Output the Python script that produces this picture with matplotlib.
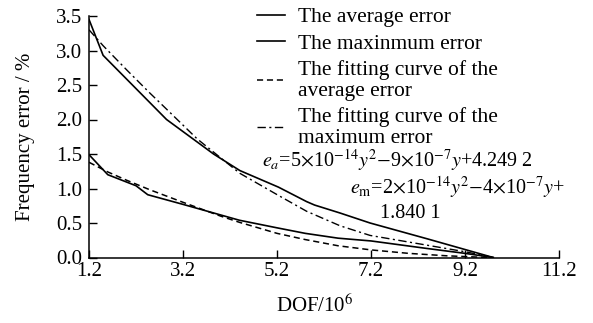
import matplotlib
matplotlib.use("Agg")
import matplotlib.pyplot as plt

plt.rcParams['font.family'] = ['Liberation Serif', 'DejaVu Serif']
plt.rcParams['mathtext.fontset'] = 'stix'

# Average error (lower solid)
avg_x = [1.2, 1.6, 2.2, 2.45, 3.2, 4.4, 5.2, 5.8, 6.5, 7.2, 8.4, 9.2, 9.8]
avg_y = [1.49, 1.20, 1.04, 0.91, 0.77, 0.54, 0.43, 0.35, 0.28, 0.24, 0.13, 0.06, 0.0]

# Maximum error (upper solid)
max_x = [1.2, 1.5, 2.85, 3.85, 4.41, 5.23, 5.83, 6.0, 6.54, 7.18, 8.4, 9.8]
max_y = [3.45, 2.93, 2.0, 1.5, 1.26, 1.02, 0.81, 0.76, 0.645, 0.50, 0.27, 0.0]

# Fitting curve of the average error (dashed)
fit_avg_x = [1.2, 1.6, 2.0, 2.5, 3.2, 4.0, 4.4, 5.2, 5.8, 6.5, 7.2, 8.0, 8.8, 9.5, 9.8]
fit_avg_y = [1.38, 1.24, 1.12, 0.98, 0.80, 0.60, 0.51, 0.35, 0.26, 0.17, 0.11, 0.06, 0.025, 0.005, 0.0]

# Fitting curve of the maximum error (dash-dot)
fit_max_x = [1.2, 1.5, 2.0, 2.5, 2.85, 3.5, 4.41, 5.23, 5.83, 6.54, 7.18, 8.38, 9.23, 9.8]
fit_max_y = [3.30, 3.07, 2.72, 2.38, 2.15, 1.72, 1.22, 0.90, 0.67, 0.46, 0.32, 0.18, 0.08, 0.0]

x_ticks = [1.2, 3.2, 5.2, 7.2, 9.2, 11.2]
y_ticks = [0.0, 0.5, 1.0, 1.5, 2.0, 2.5, 3.0, 3.5]

labels = ["The average error", "The maxinmum error",
          "The fitting curve of the\naverage error",
          "The fitting curve of the\nmaximum error"]

fig = plt.figure(figsize=(5.93, 3.23), dpi=100)
ax = fig.add_axes([89/593, 65.5/323, 470/593, 241.5/323])

l1, = ax.plot(avg_x, avg_y, color='black', lw=1.2)
l2, = ax.plot(max_x, max_y, color='black', lw=1.2)
l3, = ax.plot(fit_avg_x, fit_avg_y, color='black', lw=1.1, dashes=(4, 2.5))
l4, = ax.plot(fit_max_x, fit_max_y, color='black', lw=1.0, dashes=(6, 2.5, 1.5, 2.5))

ax.set_xlim(1.2, 11.2)
ax.set_ylim(0, 3.5)
ax.set_xticks(x_ticks)
ax.set_xticklabels([f"{v:.1f}" for v in x_ticks])
ax.set_yticks(y_ticks)
ax.set_yticklabels([f"{v:.1f}" for v in y_ticks])

for s in ['top', 'right']:
    ax.spines[s].set_visible(False)
for s in ['left', 'bottom']:
    ax.spines[s].set_linewidth(1.1)

ax.tick_params(axis='both', direction='in', length=5.5, width=1.0, labelsize=15)
ax.tick_params(axis='x', pad=3)
ax.tick_params(axis='y', pad=5)

ax.set_xlabel(r"DOF/10$^{6}$", fontsize=15)
ax.xaxis.set_label_coords(0.481, -0.155)
ax.set_ylabel("Frequency error / %", fontsize=15)
ax.yaxis.set_label_coords(-0.115, 0.5)

leg = fig.legend([l1, l2, l3, l4], labels, loc='upper left',
                 bbox_to_anchor=(257/593, 1 - 7/323), frameon=False,
                 fontsize=15.5, handlelength=1.3, handletextpad=0.6,
                 labelspacing=0.3, borderpad=0, borderaxespad=0)
for t in leg.get_texts():
    t.set_linespacing(1.12)

fig.text(262/593, 1 - 160/323,
         r"$e_a$=5$\times$10$^{-14}$$y^2$$-$9$\times$10$^{-7}$$y$+4.249 2",
         fontsize=14.5, va='center', ha='left')
fig.text(350/593, 1 - 187/323,
         r"$e_\mathrm{m}$=2$\times$10$^{-14}$$y^2$$-$4$\times$10$^{-7}$$y$+",
         fontsize=14.5, va='center', ha='left')
fig.text(380/593, 1 - 214/323, "1.840 1",
         fontsize=14.5, va='center', ha='left')

fig.savefig("out.png", dpi=100)
